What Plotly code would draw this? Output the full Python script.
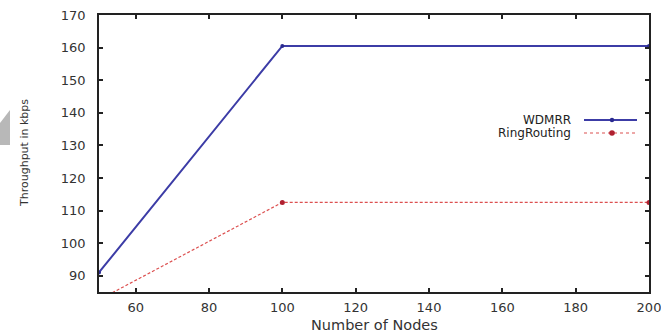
import plotly.graph_objects as go

nodes = [50, 100, 200]
wdmrr = [91, 160.5, 160.5]
ring_routing = [82.6, 112.5, 112.5]
series_names = ["WDMRR", "RingRouting"]

L, R, T, B = 99, 649, 15, 292
W, H = 661, 334
FONT = "DejaVu Sans, Liberation Sans, Arial"
BLUE = "#3c3ca6"
RED = "#dc5050"

def px(x):
    return (x - L) / (R - L)

def py(y):
    return (B - y) / (B - T)

fig = go.Figure()
fig.add_trace(go.Scatter(
    x=nodes, y=wdmrr, name=series_names[0], mode="lines+markers",
    line=dict(color=BLUE, width=2),
    marker=dict(size=4, color="#2a2a90"),
))
fig.add_trace(go.Scatter(
    x=nodes, y=ring_routing, name=series_names[1], mode="lines+markers",
    line=dict(color=RED, width=1.2, dash="3px,2px"),
    marker=dict(size=5, color="#b02030"),
))

axis_common = dict(
    showline=True, linecolor="#222", linewidth=1.5, mirror="ticks",
    ticks="inside", ticklen=4, tickcolor="#222", tickwidth=1.5,
    showgrid=False, zeroline=False, automargin=False,
    ticklabeloverflow="allow",
    tickfont=dict(family=FONT, size=13, color="#333"),
)

annotations = [
    dict(text="Number of Nodes", xref="paper", yref="paper",
         x=px(374), y=py(325), showarrow=False, xanchor="center", yanchor="middle",
         font=dict(family=FONT, size=14.5, color="#333")),
    dict(text="Throughput in kbps", xref="paper", yref="paper", textangle=-90,
         x=px(24), y=py(153), showarrow=False, xanchor="center", yanchor="middle",
         font=dict(family=FONT, size=11, color="#333")),
]
shapes = []
legend_rows = [(series_names[0], 120, BLUE, "solid", 2, "#2a2a90", 2.2),
               (series_names[1], 133, RED, "dot", 1.2, "#b02030", 2.8)]
for name, yy, col, dash, lw, mcol, mr in legend_rows:
    annotations.append(dict(text=name, xref="paper", yref="paper",
                            x=px(573), y=py(yy), showarrow=False,
                            xanchor="right", yanchor="middle",
                            font=dict(family=FONT, size=12, color="#222")))
    shapes.append(dict(type="line", xref="paper", yref="paper",
                       x0=px(584), x1=px(637), y0=py(yy), y1=py(yy),
                       line=dict(color=col, width=lw, dash=dash)))
    shapes.append(dict(type="circle", xref="paper", yref="paper",
                       x0=px(612 - mr), x1=px(612 + mr), y0=py(yy + mr), y1=py(yy - mr),
                       fillcolor=mcol, line=dict(width=0)))

shapes.append(dict(
    type="path", xref="paper", yref="paper",
    path=f"M {px(0)} {py(123)} L {px(10)} {py(110)} L {px(10)} {py(145)} L {px(0)} {py(145)} Z",
    fillcolor="#b8b8b8", line=dict(width=0), layer="above",
))

fig.update_layout(
    width=W, height=H,
    margin=dict(l=L, r=W - R, t=T, b=H - B),
    paper_bgcolor="white", plot_bgcolor="white",
    showlegend=False,
    xaxis=dict(range=[50, 200.001], tick0=0, dtick=20, ticklabelstandoff=3, **axis_common),
    yaxis=dict(range=[85, 170], tick0=0, dtick=10, ticklabelstandoff=9, **axis_common),
    annotations=annotations,
    shapes=shapes,
)

fig.write_html("out.html", config={"displayModeBar": False},
               post_script="document.body.style.margin='0px';")
